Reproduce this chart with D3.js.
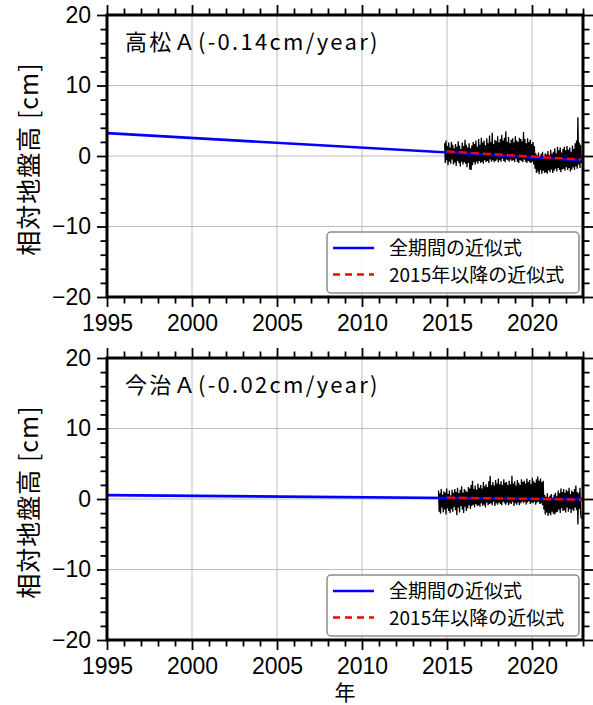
<!DOCTYPE html>
<html>
<head>
<meta charset="utf-8">
<script src="https://cdn.jsdelivr.net/npm/d3@7/dist/d3.min.js"></script>
<style>
body { margin: 0; background: #fff; }
</style>
</head>
<body>
<svg width="593" height="705"></svg>
<script>
// --- donnees ---
var xMajor = [1995, 2000, 2005, 2010, 2015, 2020];
var yMajor = [-20, -10, 0, 10, 20];
var step = 0.04; // pas d'echantillonnage (annees)

// 高松A : debut 2014.86
var takamatsuStart = 2014.86;
var takamatsu = [
  1.8,-1.0,2.2,-0.6,1.4,-1.3,1.9,-0.8,1.2,-1.1,2.0,-0.5,1.6,-1.2,1.1,-0.9,1.7,-1.4,1.3,-0.7,2.1,-1.0,1.5,-1.5,1.0,
  -0.8,1.9,-1.2,1.4,-0.9,2.3,-1.1,1.6,-1.6,1.2,-1.0,1.8,-1.9,1.1,-2.0,1.5,-1.3,2.0,-0.9,1.7,-1.2,2.2,-0.8,1.3,-1.1,
  2.4,-0.7,1.6,-1.0,2.6,-0.8,1.9,-1.1,2.2,-0.6,1.5,-0.9,2.5,-0.7,1.8,-1.0,2.9,-0.5,2.0,-0.8,3.3,-0.6,1.7,-0.9,2.3,
  -0.7,2.1,-0.5,2.8,-0.9,1.9,-0.6,2.4,-0.8,3.0,-0.4,2.2,-0.7,2.6,-0.9,3.5,-0.5,2.0,-0.6,2.7,-0.8,1.8,-0.5,2.3,-0.7,
  2.5,-0.6,1.9,-0.9,2.8,-0.4,2.2,-0.8,2.0,-1.0,2.6,-0.6,2.4,-0.7,2.1,-0.9,3.4,-0.5,2.4,-0.8,1.8,-1.0,2.5,-0.7,2.0,
  -0.9,2.3,-1.0,1.7,-0.8,2.0,-1.2,1.4,-1.8,0.4,-2.4,0.1,-2.2,0.5,-2.6,-0.1,-2.0,0.3,-2.5,0.6,-2.1,0.0,-2.4,0.4,-2.3,
  0.2,-2.5,0.7,-2.0,0.1,-2.3,0.9,-1.9,0.3,-2.4,0.6,-2.1,1.1,-1.8,0.4,-2.2,1.3,-1.7,0.8,-2.0,1.2,-2.3,0.5,-1.9,1.0,
  -1.8,1.3,-2.1,0.8,-1.6,1.4,-2.0,0.9,-1.7,1.2,-2.2,0.6,-1.9,1.5,-1.6,1.0,-2.0,1.8,-1.5,2.2,-1.8,5.5,-1.2,1.9,-1.7,
  1.6,-1.0
];

// 今治A : debut 2014.50
var imabariStart = 2014.50;
var imabari = [
  1.2,-1.8,0.8,-2.1,1.4,-1.2,0.6,-1.9,1.1,-1.5,0.9,-2.2,1.5,-1.3,0.7,-1.7,1.2,-2.0,0.5,-1.4,1.3,-1.8,0.9,-1.1,1.4,
  -1.6,1.0,-2.3,1.6,-1.2,0.8,-1.9,1.3,-1.0,1.8,-1.5,0.9,-2.0,1.4,-1.1,1.2,-1.7,1.0,-1.3,1.7,-0.9,1.5,-1.4,2.0,-1.0,
  2.6,-0.8,1.4,-1.2,1.9,-0.7,1.3,-1.0,2.2,-0.9,1.6,-1.1,2.0,-0.6,1.5,-1.0,2.4,-0.8,1.8,-1.2,2.1,-0.5,1.7,-0.9,2.5,
  -0.7,3.3,-0.6,2.0,-0.9,2.4,-0.4,1.9,-1.0,2.7,-0.6,2.2,-0.8,2.9,-0.5,2.1,-0.7,2.5,-0.9,2.0,-0.4,2.8,-0.6,2.3,-0.8,
  2.4,-0.5,2.0,-0.9,2.6,-0.6,2.1,-0.7,3.3,-0.4,2.2,-1.0,2.5,-0.6,1.9,-0.8,2.7,-0.5,2.3,-0.9,2.0,-0.6,2.8,-0.4,2.4,
  -0.6,2.6,-0.4,2.2,-0.8,2.9,-0.5,2.4,-0.3,2.7,-0.7,2.1,-0.5,3.0,-0.6,2.5,-0.4,2.3,-0.8,2.8,-0.5,3.2,-0.4,2.6,-0.7,
  2.9,-0.6,2.4,-0.9,2.6,-1.5,0.6,-2.2,0.3,-1.9,0.8,-2.4,0.2,-2.0,0.5,-2.3,0.7,-1.8,0.1,-2.1,0.6,-2.2,0.9,-1.9,0.4,
  -1.8,1.2,-1.5,0.8,-2.0,1.5,-1.3,1.0,-1.7,1.4,-1.6,0.9,-1.9,1.3,-1.2,1.1,-1.8,1.6,-1.4,0.7,-2.0,1.2,-1.5,1.0,-1.7,
  1.4,-1.2,1.9,-1.6,1.0,-3.6,0.8,-1.4,1.6,-2.0,-2.8
];

// droites d'ajustement [annee, valeur]
var takamatsuFitAll = [[1995, 3.25], [2023, -0.6]];
var takamatsuFit2015 = [[2015, 0.65], [2022.9, -0.5]];
var imabariFitAll = [[1995, 0.55], [2023, -0.02]];
var imabariFit2015 = [[2015, 0.2], [2022.9, -0.1]];

var legendLabels = ["全期間の近似式", "2015年以降の近似式"];

// --- mise en page ---
var svg = d3.select("svg");
var left = 107, plotW = 476, plotH = 282;
var panelTops = [15, 358];

var x = d3.scaleLinear().domain([1995, 2023]).range([0, plotW]);
var y = d3.scaleLinear().domain([-20, 20]).range([plotH, 0]);

var jpFont = "'Noto Sans CJK JP', 'Noto Sans', sans-serif";
var numFont = "'Liberation Sans', Arial, sans-serif";

function toPoints(start, vals) {
  return vals.map(function(v, i) { return [start + i * step, v]; });
}

var line = d3.line()
  .x(function(d) { return x(d[0]); })
  .y(function(d) { return y(d[1]); });

function fmt(d) { return d < 0 ? "\u2212" + (-d) : "" + d; }

function drawPanel(top, idx, title, series, fitAll, fit2015) {
  var g = svg.append("g").attr("transform", "translate(" + left + "," + top + ")");

  g.append("clipPath").attr("id", "clip" + idx)
    .append("rect").attr("width", plotW).attr("height", plotH);

  // grille
  g.selectAll(".gx").data(xMajor).enter().append("line")
    .attr("x1", function(d) { return x(d); }).attr("x2", function(d) { return x(d); })
    .attr("y1", 0).attr("y2", plotH)
    .attr("stroke", "#bdbdbd").attr("stroke-width", 1);
  g.selectAll(".gy").data(yMajor).enter().append("line")
    .attr("x1", 0).attr("x2", plotW)
    .attr("y1", function(d) { return y(d); }).attr("y2", function(d) { return y(d); })
    .attr("stroke", "#bdbdbd").attr("stroke-width", 1);

  var plot = g.append("g").attr("clip-path", "url(#clip" + idx + ")");

  plot.append("path").datum(series)
    .attr("d", line).attr("fill", "none")
    .attr("stroke", "#000").attr("stroke-width", 1.3);

  plot.append("path").datum(fitAll)
    .attr("d", line).attr("fill", "none")
    .attr("stroke", "#0000ff").attr("stroke-width", 2.6);

  plot.append("path").datum(fit2015)
    .attr("d", line).attr("fill", "none")
    .attr("stroke", "#ff0000").attr("stroke-width", 2.4)
    .attr("stroke-dasharray", "8,4");

  // axes
  var yMinor = d3.range(-20, 21, 2).filter(function(d) { return d % 10 !== 0; });
  var xMinor = d3.range(1995, 2024).filter(function(d) { return d % 5 !== 0; });

  function styleAxis(sel) {
    sel.select(".domain").remove();
    sel.selectAll(".tick line").attr("stroke", "#000").attr("stroke-width", 1.8);
    sel.selectAll("text").attr("fill", "#000").style("font-family", numFont).style("font-size", "23px");
  }

  g.append("g").call(d3.axisLeft(y).tickValues(yMajor).tickSize(10).tickPadding(6).tickFormat(fmt)).call(styleAxis);
  g.append("g").call(d3.axisLeft(y).tickValues(yMinor).tickSize(6.5).tickFormat("")).call(styleAxis);
  g.append("g").attr("transform", "translate(" + plotW + ",0)")
    .call(d3.axisRight(y).tickValues(yMajor).tickSize(10).tickFormat("")).call(styleAxis);
  g.append("g").attr("transform", "translate(" + plotW + ",0)")
    .call(d3.axisRight(y).tickValues(yMinor).tickSize(6.5).tickFormat("")).call(styleAxis);
  g.append("g").call(d3.axisTop(x).tickValues(xMajor).tickSize(10).tickFormat("")).call(styleAxis);
  g.append("g").call(d3.axisTop(x).tickValues(xMinor).tickSize(6.5).tickFormat("")).call(styleAxis);
  g.append("g").attr("transform", "translate(0," + plotH + ")")
    .call(d3.axisBottom(x).tickValues(xMajor).tickSize(10).tickPadding(8).tickFormat(d3.format("d"))).call(styleAxis);
  g.append("g").attr("transform", "translate(0," + plotH + ")")
    .call(d3.axisBottom(x).tickValues(xMinor).tickSize(6.5).tickFormat("")).call(styleAxis);

  // cadre
  g.append("rect").attr("width", plotW).attr("height", plotH)
    .attr("fill", "none").attr("stroke", "#000").attr("stroke-width", 3);

  // titre
  g.append("text").attr("x", 18).attr("y", 35)
    .style("font-family", jpFont).style("font-size", "22px")
    .style("letter-spacing", "2.3px").attr("fill", "#000")
    .text(title);

  // label y
  g.append("text")
    .attr("transform", "translate(" + (-69) + "," + (plotH / 2 + 3) + ") rotate(-90)")
    .attr("text-anchor", "middle")
    .style("font-family", jpFont).style("font-size", "25px")
    .style("letter-spacing", "1px").attr("fill", "#000")
    .text("相対地盤高 [cm]");

  // legende
  var lw = 252, lh = 61;
  var lg = g.append("g").attr("transform", "translate(" + (plotW - 4 - lw) + "," + (plotH - 4 - lh) + ")");
  lg.append("rect").attr("width", lw).attr("height", lh).attr("rx", 4)
    .attr("fill", "#fff").attr("fill-opacity", 0.85)
    .attr("stroke", "#8c8c8c").attr("stroke-width", 1.5);
  var styles = [{c: "#0000ff", dash: null}, {c: "#ff0000", dash: "7,5"}];
  legendLabels.forEach(function(t, i) {
    var ly = 16 + i * 26.5;
    lg.append("line").attr("x1", 6).attr("x2", 47).attr("y1", ly).attr("y2", ly)
      .attr("stroke", styles[i].c).attr("stroke-width", 2.5)
      .attr("stroke-dasharray", styles[i].dash);
    lg.append("text").attr("x", 62).attr("y", ly + 7)
      .style("font-family", jpFont).style("font-size", "19px").attr("fill", "#000")
      .text(t);
  });
}

drawPanel(panelTops[0], 0, "高松Ａ(-0.14cm/year)",
  toPoints(takamatsuStart, takamatsu), takamatsuFitAll, takamatsuFit2015);
drawPanel(panelTops[1], 1, "今治Ａ(-0.02cm/year)",
  toPoints(imabariStart, imabari), imabariFitAll, imabariFit2015);

// label x
svg.append("text")
  .attr("x", left + plotW / 2).attr("y", 700)
  .attr("text-anchor", "middle")
  .style("font-family", jpFont).style("font-size", "21px").attr("fill", "#000")
  .text("年");
</script>
</body>
</html>
